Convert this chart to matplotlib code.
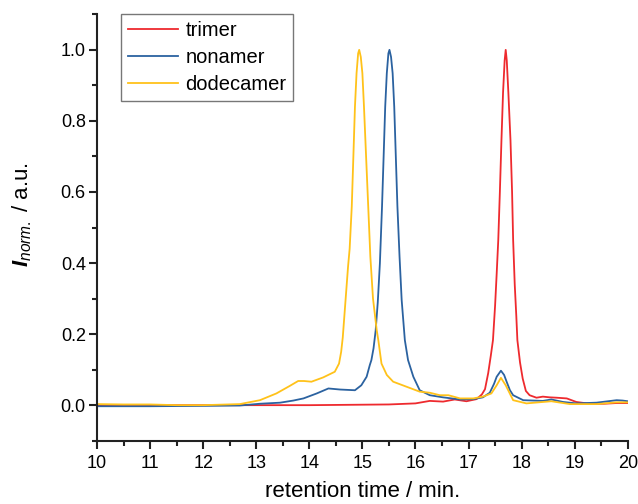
import matplotlib.pyplot as plt
from matplotlib.ticker import MultipleLocator

plt.rcParams['font.family'] = 'Liberation Sans'
plt.rcParams['mathtext.fontset'] = 'custom'
plt.rcParams['mathtext.rm'] = 'Liberation Sans'
plt.rcParams['mathtext.it'] = 'Liberation Sans:italic'
plt.rcParams['mathtext.bf'] = 'Liberation Sans:italic:bold'

# trimer trace
t_tri = [10.0, 12.0, 14.0, 15.5, 16.0, 16.27, 16.52, 16.74, 16.96, 17.15, 17.25, 17.31,
         17.37, 17.42, 17.46, 17.50, 17.53, 17.56, 17.59, 17.62, 17.65, 17.68, 17.70,
         17.72, 17.75, 17.79, 17.82, 17.84, 17.87, 17.90, 17.92, 17.97, 18.02, 18.08,
         18.15, 18.28, 18.40, 18.53, 18.66, 18.85, 19.03, 19.28, 19.55, 19.79, 20.0]
i_tri = [0.0, 0.0, 0.0, 0.002, 0.005, 0.012, 0.010, 0.016, 0.011, 0.017, 0.030, 0.045,
         0.090, 0.140, 0.183, 0.280, 0.370, 0.465, 0.600, 0.746, 0.880, 0.970, 1.0,
         0.970, 0.880, 0.746, 0.600, 0.465, 0.340, 0.250, 0.183, 0.120, 0.075, 0.040,
         0.028, 0.021, 0.024, 0.022, 0.021, 0.019, 0.009, 0.004, 0.004, 0.006, 0.006]

# nonamer trace
t_non = [10.0, 11.0, 12.0, 12.69, 13.07, 13.45, 13.70, 13.89, 14.14, 14.36, 14.58, 14.86,
         14.98, 15.08, 15.14, 15.17, 15.21, 15.25, 15.29, 15.33, 15.37, 15.40, 15.43,
         15.46, 15.49, 15.51, 15.54, 15.57, 15.60, 15.63, 15.66, 15.70, 15.74, 15.80,
         15.86, 15.96, 16.08, 16.27, 16.52, 16.84, 17.09, 17.27, 17.40, 17.48, 17.53,
         17.61, 17.67, 17.72, 17.78, 17.84, 18.03, 18.40, 18.56, 18.78, 19.03, 19.41,
         19.79, 19.90, 20.0]
i_non = [-0.003, -0.003, -0.002, -0.001, 0.004, 0.007, 0.013, 0.019, 0.033, 0.047, 0.044,
         0.042, 0.056, 0.080, 0.113, 0.127, 0.160, 0.210, 0.290, 0.400, 0.559, 0.699,
         0.840, 0.934, 0.990, 1.0, 0.980, 0.934, 0.840, 0.699, 0.559, 0.418, 0.296,
         0.183, 0.127, 0.080, 0.042, 0.028, 0.022, 0.016, 0.017, 0.022, 0.035, 0.060,
         0.080, 0.097, 0.085, 0.065, 0.042, 0.028, 0.014, 0.012, 0.016, 0.009, 0.005,
         0.007, 0.014, 0.013, 0.011]

# dodecamer trace
t_dod = [10.0, 10.5, 11.0, 11.5, 12.0, 12.69, 13.07, 13.38, 13.63, 13.79, 13.90, 14.04,
         14.26, 14.48, 14.56, 14.60, 14.63, 14.66, 14.70, 14.73, 14.76, 14.80, 14.83,
         14.86, 14.89, 14.92, 14.94, 14.97, 15.00, 15.03, 15.07, 15.11, 15.15, 15.20,
         15.27, 15.30, 15.36, 15.46, 15.58, 15.83, 16.08, 16.27, 16.46, 16.62, 16.84,
         17.09, 17.27, 17.43, 17.53, 17.61, 17.70, 17.84, 18.09, 18.56, 18.91, 19.41,
         19.79, 20.0]
i_dod = [0.003, 0.002, 0.002, 0.0, 0.0, 0.003, 0.014, 0.033, 0.054, 0.068, 0.068, 0.066,
         0.078, 0.094, 0.117, 0.150, 0.190, 0.250, 0.330, 0.390, 0.440, 0.559, 0.699,
         0.840, 0.934, 0.990, 1.0, 0.980, 0.934, 0.840, 0.699, 0.559, 0.418, 0.300,
         0.211, 0.183, 0.117, 0.085, 0.066, 0.052, 0.038, 0.035, 0.028, 0.028, 0.019,
         0.019, 0.024, 0.033, 0.056, 0.077, 0.056, 0.014, 0.005, 0.011, 0.003, 0.003,
         0.008, 0.008]

fig = plt.figure(figsize=(6.38, 5.04), dpi=100)
ax = fig.add_axes([0.152, 0.1256, 0.832, 0.846])

ax.plot(t_tri, i_tri, color='#EE2A2E', lw=1.3, label='trimer')
ax.plot(t_non, i_non, color='#2B62A0', lw=1.3, label='nonamer')
ax.plot(t_dod, i_dod, color='#FFC21A', lw=1.3, label='dodecamer')

ax.set_xlim(10, 20)
ax.set_ylim(-0.1, 1.1)
ax.xaxis.set_major_locator(MultipleLocator(1))
ax.xaxis.set_minor_locator(MultipleLocator(0.5))
ax.yaxis.set_major_locator(MultipleLocator(0.2))
ax.yaxis.set_minor_locator(MultipleLocator(0.1))
ax.yaxis.set_major_formatter(lambda v, pos: f'{v:.1f}')

for side in ['top', 'right']:
    ax.spines[side].set_visible(False)
for side in ['left', 'bottom']:
    ax.spines[side].set_linewidth(1.5)
    ax.spines[side].set_color('#222222')

ax.tick_params(which='major', direction='out', length=6, width=1.5, labelsize=13,
               color='#222222', pad=2)
ax.tick_params(which='minor', direction='out', length=3.5, width=1.5, color='#222222')
ax.tick_params(axis='x', which='major', pad=4)

ax.set_xlabel('retention time / min.', fontsize=16, labelpad=7)
ax.set_ylabel(r'$\mathbf{I}_{\mathit{norm.}}$ / a.u.', fontsize=16)
ax.yaxis.set_label_coords(-0.118, 0.53)

leg = ax.legend(loc='upper left', bbox_to_anchor=(0.045, 1.0), borderaxespad=0,
                fontsize=14.5, frameon=True, fancybox=False, framealpha=1,
                edgecolor='#777777', handlelength=2.5, handletextpad=0.35,
                labelspacing=0.38, borderpad=0.35)
leg.get_frame().set_linewidth(1.0)

fig.savefig('out.png', dpi=100)
